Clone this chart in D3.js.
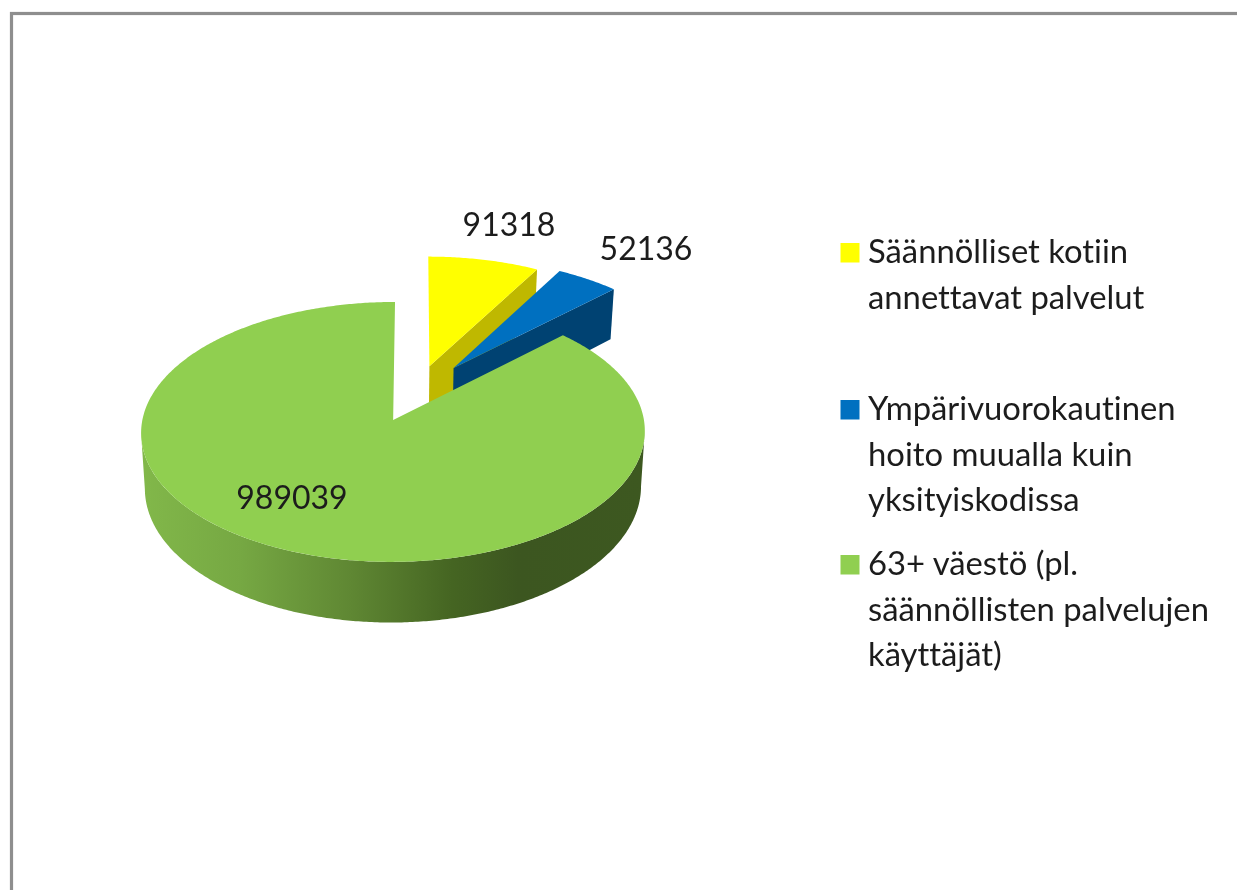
<!DOCTYPE html>
<html>
<head>
<meta charset="utf-8">
<script src="https://cdn.jsdelivr.net/npm/d3@7"></script>
<style>
  html, body { margin: 0; padding: 0; background: #fff; overflow: hidden; }
  svg { display: block; filter: blur(0.5px); }
  text { font-family: Lato, "Open Sans", sans-serif; fill: #1c1c1c; font-variant-ligatures: none; }
</style>
</head>
<body>
<div id="chart"></div>
<script>
// Chart values
const categories = ["Säännölliset kotiin annettavat palvelut", "Ympärivuorokautinen hoito muualla kuin yksityiskodissa", "63+ väestö (pl. säännöllisten palvelujen käyttäjät)"];
const values = [91318, 52136, 989039];
const legendLines = [
    ["Säännölliset kotiin", "annettavat palvelut"],
    ["Ympärivuorokautinen", "hoito muualla kuin", "yksityiskodissa"],
    ["63+ väestö (pl.", "säännöllisten palvelujen", "käyttäjät)"]
];
const topColors = ["#ffff00", "#0070c0", "#90cf50"];
const wallColors = ["#bfb800", "#004272", "#90cf50"];

const width = 1237, height = 890;

// Pie plane seen in perspective, slices pulled out of the centre
const view = { cx: 415.5, cy: 393.2, rx: 246, ry: 124, p: 0.09, depth: 54, lowScale: 0.985, midX: 392 };
const explode = [0.23, 0.26, 0.23];

const svg = d3.select("#chart").append("svg")
    .attr("width", width)
    .attr("height", height);

svg.append("rect")
    .attr("width", width)
    .attr("height", height)
    .attr("fill", "#fff");

// Outer chart border, runs off the right and bottom of the picture
svg.append("rect")
    .attr("x", 11.5)
    .attr("y", 13.5)
    .attr("width", width + 50)
    .attr("height", height + 50)
    .attr("fill", "none")
    .attr("stroke", "#8e8e8e")
    .attr("stroke-width", 3.2);

const pie = d3.pie().sort(null).startAngle(0).endAngle(2 * Math.PI);
const slices = pie(values);

// Screen position of a point on the pie plane, dropped by the pie thickness if low is set
function project(u, v, low) {
    const w = 1 + view.p * v;
    const x = view.cx + view.rx * u / w;
    return [
        low ? view.midX + (x - view.midX) * view.lowScale : x,
        view.cy - view.ry * v / w + (low ? view.depth / w : 0)
    ];
}

function apex(s, i, low) {
    const mid = (s.startAngle + s.endAngle) / 2;
    return project(explode[i] * Math.sin(mid), explode[i] * Math.cos(mid), low);
}

function rim(s, i, a, low) {
    const mid = (s.startAngle + s.endAngle) / 2;
    return project(
        explode[i] * Math.sin(mid) + Math.sin(a),
        explode[i] * Math.cos(mid) + Math.cos(a),
        low
    );
}

const line = d3.line();

function arcAngles(a0, a1) {
    const n = Math.max(2, Math.ceil((a1 - a0) / 0.01));
    return d3.range(n + 1).map(k => a0 + (a1 - a0) * k / n);
}

// Gradient along the front wall of the big slice
const grad = svg.append("defs").append("linearGradient")
    .attr("id", "wall")
    .attr("gradientUnits", "userSpaceOnUse")
    .attr("x1", 139).attr("x2", 644).attr("y1", 0).attr("y2", 0);
[[0, "#82b84a"], [0.2, "#76a843"], [0.42, "#5f8733"], [0.62, "#456522"], [0.75, "#3c5620"], [1, "#3d5820"]].forEach(d => {
    grad.append("stop").attr("offset", d[0]).attr("stop-color", d[1]);
});

const g = svg.append("g");

// Drawn back to front: yellow, blue, green
slices.forEach((s, i) => {
    // Big slice gets its round outer wall, small ones only the cut face
    if (i === 2) {
        // Wall runs between the widest points of the rim so the sides stay straight
        const all = arcAngles(Math.PI * 0.25, Math.PI * 1.75);
        const aRight = d3.greatest(all, a => rim(s, i, a, false)[0]);
        const aLeft = d3.least(all, a => rim(s, i, a, false)[0]);
        const ang = arcAngles(aRight, aLeft);
        const pts = ang.map(a => rim(s, i, a, false))
            .concat(ang.slice().reverse().map(a => rim(s, i, a, true)));
        g.append("path")
            .attr("d", line(pts) + "Z")
            .attr("fill", "url(#wall)");
    } else {
        const pts = [apex(s, i, false), rim(s, i, s.endAngle, false), rim(s, i, s.endAngle, true), apex(s, i, true)];
        g.append("path")
            .attr("d", line(pts) + "Z")
            .attr("fill", wallColors[i]);
    }
    const top = [apex(s, i, false)].concat(arcAngles(s.startAngle, s.endAngle).map(a => rim(s, i, a, false)));
    g.append("path")
        .attr("d", line(top) + "Z")
        .attr("fill", topColors[i]);
});

// Data labels
const labelPos = [[509, 236], [646, 260], [292, 509]];
svg.append("g").selectAll("text")
    .data(values)
    .enter().append("text")
    .attr("x", (d, i) => labelPos[i][0])
    .attr("y", (d, i) => labelPos[i][1])
    .attr("text-anchor", "middle")
    .attr("font-size", 32)
    .text(d => d);

// Legend
const legendTop = [263, 420, 575];
const legend = svg.append("g");
legendLines.forEach((lines, i) => {
    legend.append("rect")
        .attr("x", 840.5)
        .attr("y", legendTop[i] - 20)
        .attr("width", 19)
        .attr("height", 19.5)
        .attr("fill", topColors[i]);
    lines.forEach((t, j) => {
        legend.append("text")
            .attr("x", 868)
            .attr("y", legendTop[i] + j * 45.5)
            .attr("font-size", 32.8)
            .text(t);
    });
});
</script>
</body>
</html>
